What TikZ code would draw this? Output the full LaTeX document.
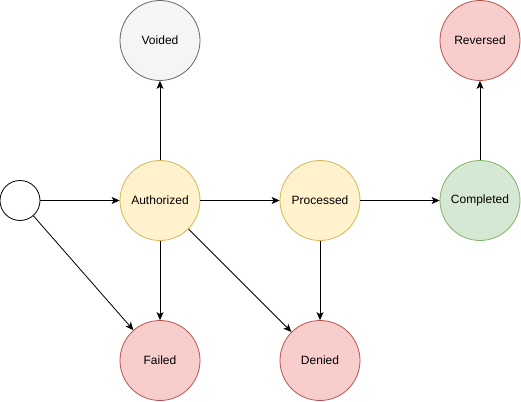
\documentclass[tikz,border=0pt]{standalone}
\usepackage{fontspec}
\setmainfont{Liberation Sans}
\usetikzlibrary{arrows.meta}
\definecolor{yfill}{HTML}{FFF2CC}\definecolor{ydraw}{HTML}{D6B656}
\definecolor{gfill}{HTML}{D5E8D4}\definecolor{gdraw}{HTML}{82B366}
\definecolor{rfill}{HTML}{F8CECC}\definecolor{rdraw}{HTML}{B85450}
\definecolor{vfill}{HTML}{F5F5F5}\definecolor{vdraw}{HTML}{666666}
\newcommand{\mylbl}[1]{\raisebox{-1.5pt}{#1}}
\tikzset{
  st/.style={circle,minimum size=80pt,inner sep=0pt,line width=0.8pt,font=\fontsize{12}{14}\selectfont},
  pend/.style={st,fill=yfill,draw=ydraw},
  good/.style={st,fill=gfill,draw=gdraw},
  bad/.style={st,fill=rfill,draw=rdraw},
  void/.style={st,fill=vfill,draw=vdraw},
  startc/.style={circle,minimum size=40pt,inner sep=0pt,draw=black,fill=white,line width=0.8pt},
  arr/.style={-{Stealth[length=8pt,width=7pt,inset=2pt]},line width=0.8pt,black}
}
\begin{document}
\begin{tikzpicture}[x=1pt,y=-1pt]
\useasboundingbox (0,0) rectangle (521,401);
\node[startc] (s) at (20,200.5) {};
\node[pend] (auth) at (160,200.5) {\mylbl{Authorized}};
\node[void] (void) at (160,40.5) {\mylbl{Voided}};
\node[pend] (proc) at (320,200.5) {\mylbl{Processed}};
\node[good] (comp) at (480,200.5) {\mylbl{Completed}};
\node[bad] (rev) at (480,40.5) {\mylbl{Reversed}};
\node[bad] (fail) at (160,360.5) {\mylbl{Failed}};
\node[bad] (deny) at (320,360.5) {\mylbl{Denied}};
\draw[arr] (s) -- (auth);
\draw[arr] (auth) -- (void);
\draw[arr] (auth) -- (proc);
\draw[arr] (proc) -- (comp);
\draw[arr] (comp) -- (rev);
\draw[arr] (auth) -- (fail);
\draw[arr] (auth) -- (deny);
\draw[arr] (proc) -- (deny);
\draw[arr] (s) -- (fail);
\end{tikzpicture}
\end{document}
